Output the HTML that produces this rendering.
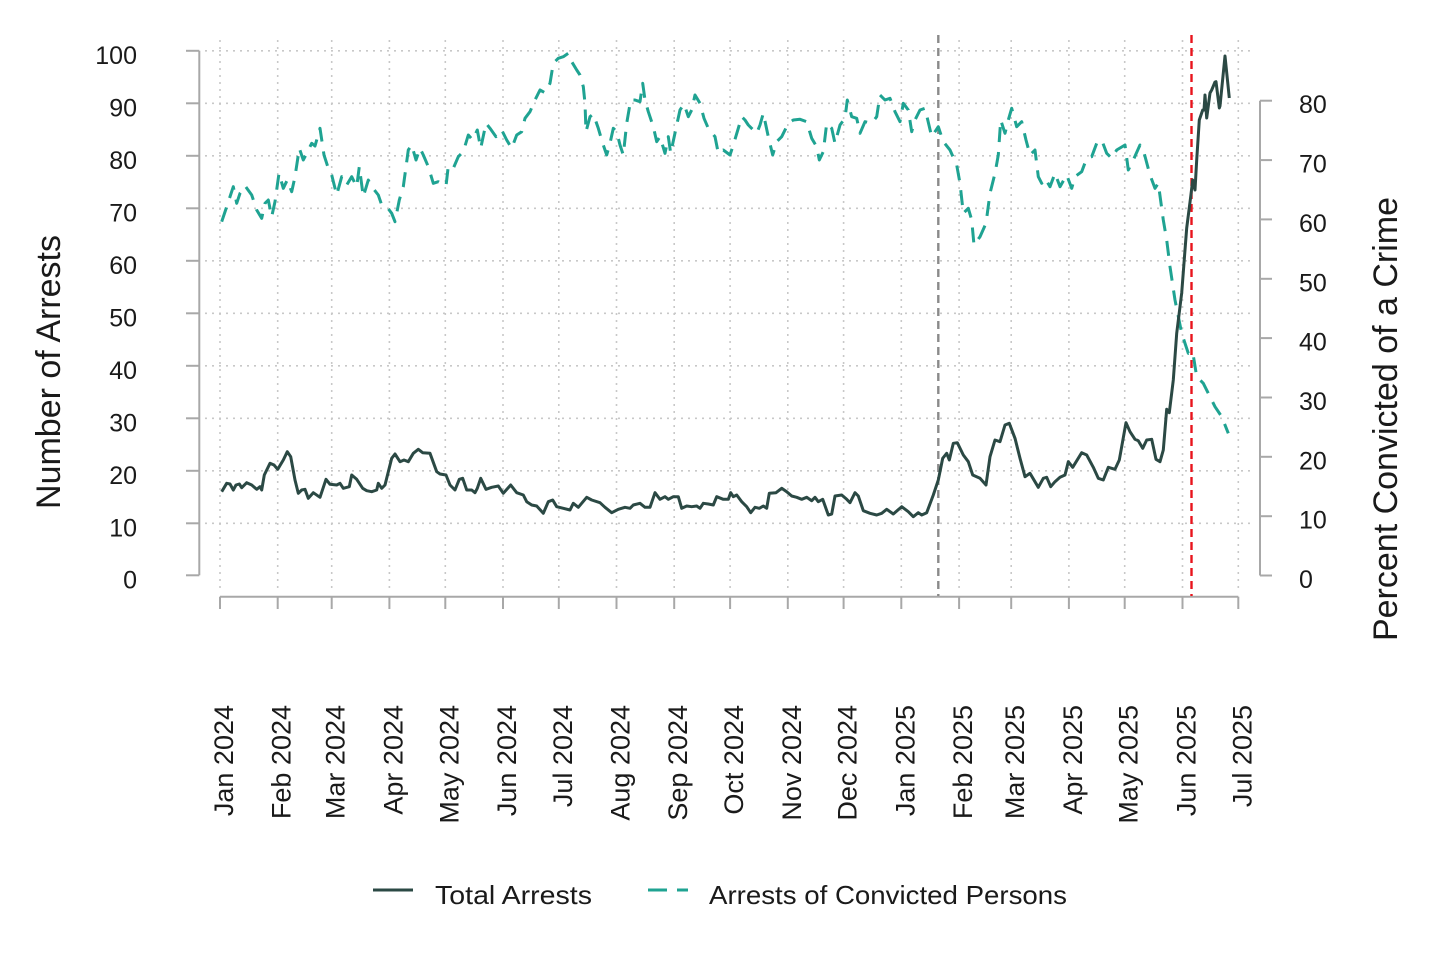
<!DOCTYPE html>
<html>
<head>
<meta charset="utf-8">
<style>
html,body{margin:0;padding:0;background:#fff;overflow:hidden;}
svg{display:block;}
text{font-family:"Liberation Sans",Arial,sans-serif;fill:#1a1a1a;}
</style>
</head>
<body>
<svg width="1439" height="961" viewBox="0 0 1439 961" xmlns="http://www.w3.org/2000/svg">
<rect width="1439" height="961" fill="#fff"/>

<!-- horizontal grid -->
<g stroke="#c8c8c8" stroke-width="1.6" stroke-dasharray="2 5" fill="none">
<line x1="205" y1="50.8" x2="1255" y2="50.8"/>
<line x1="205" y1="103.3" x2="1255" y2="103.3"/>
<line x1="205" y1="155.8" x2="1255" y2="155.8"/>
<line x1="205" y1="208.3" x2="1255" y2="208.3"/>
<line x1="205" y1="260.8" x2="1255" y2="260.8"/>
<line x1="205" y1="313.3" x2="1255" y2="313.3"/>
<line x1="205" y1="365.8" x2="1255" y2="365.8"/>
<line x1="205" y1="418.3" x2="1255" y2="418.3"/>
<line x1="205" y1="470.8" x2="1255" y2="470.8"/>
<line x1="205" y1="523.3" x2="1255" y2="523.3"/>
</g>
<!-- vertical grid -->
<g stroke="#c8c8c8" stroke-width="1.6" stroke-dasharray="2 5" fill="none">
<line x1="220" y1="40" x2="220" y2="590"/>
<line x1="277.7" y1="40" x2="277.7" y2="590"/>
<line x1="331.7" y1="40" x2="331.7" y2="590"/>
<line x1="389.4" y1="40" x2="389.4" y2="590"/>
<line x1="445.3" y1="40" x2="445.3" y2="590"/>
<line x1="503" y1="40" x2="503" y2="590"/>
<line x1="558.8" y1="40" x2="558.8" y2="590"/>
<line x1="616.5" y1="40" x2="616.5" y2="590"/>
<line x1="674.2" y1="40" x2="674.2" y2="590"/>
<line x1="730.1" y1="40" x2="730.1" y2="590"/>
<line x1="787.8" y1="40" x2="787.8" y2="590"/>
<line x1="843.6" y1="40" x2="843.6" y2="590"/>
<line x1="901.3" y1="40" x2="901.3" y2="590"/>
<line x1="959.1" y1="40" x2="959.1" y2="590"/>
<line x1="1011.2" y1="40" x2="1011.2" y2="590"/>
<line x1="1068.9" y1="40" x2="1068.9" y2="590"/>
<line x1="1124.7" y1="40" x2="1124.7" y2="590"/>
<line x1="1182.5" y1="40" x2="1182.5" y2="590"/>
<line x1="1238.3" y1="40" x2="1238.3" y2="590"/>
</g>

<!-- left axis -->
<g stroke="#a8a8a8" stroke-width="2" fill="none">
<line x1="199.3" y1="50.8" x2="199.3" y2="575.3"/>
<line x1="186" y1="50.8" x2="199.3" y2="50.8"/>
<line x1="186" y1="103.3" x2="199.3" y2="103.3"/>
<line x1="186" y1="155.8" x2="199.3" y2="155.8"/>
<line x1="186" y1="208.3" x2="199.3" y2="208.3"/>
<line x1="186" y1="260.8" x2="199.3" y2="260.8"/>
<line x1="186" y1="313.3" x2="199.3" y2="313.3"/>
<line x1="186" y1="365.8" x2="199.3" y2="365.8"/>
<line x1="186" y1="418.3" x2="199.3" y2="418.3"/>
<line x1="186" y1="470.8" x2="199.3" y2="470.8"/>
<line x1="186" y1="523.3" x2="199.3" y2="523.3"/>
<line x1="186" y1="575.3" x2="199.3" y2="575.3"/>
</g>
<g font-size="25" text-anchor="end">
<text x="137" y="64">100</text>
<text x="137" y="116.5">90</text>
<text x="137" y="169">80</text>
<text x="137" y="221.5">70</text>
<text x="137" y="274">60</text>
<text x="137" y="326.5">50</text>
<text x="137" y="379">40</text>
<text x="137" y="431.5">30</text>
<text x="137" y="484">20</text>
<text x="137" y="536.5">10</text>
<text x="137" y="588.5">0</text>
</g>

<!-- right axis -->
<g stroke="#a8a8a8" stroke-width="2" fill="none">
<line x1="1260" y1="100.7" x2="1260" y2="575.5"/>
<line x1="1260" y1="100.7" x2="1272" y2="100.7"/>
<line x1="1260" y1="160.1" x2="1272" y2="160.1"/>
<line x1="1260" y1="219.4" x2="1272" y2="219.4"/>
<line x1="1260" y1="278.8" x2="1272" y2="278.8"/>
<line x1="1260" y1="338.1" x2="1272" y2="338.1"/>
<line x1="1260" y1="397.5" x2="1272" y2="397.5"/>
<line x1="1260" y1="456.8" x2="1272" y2="456.8"/>
<line x1="1260" y1="516.2" x2="1272" y2="516.2"/>
<line x1="1260" y1="575.5" x2="1272" y2="575.5"/>
</g>
<g font-size="25" text-anchor="start">
<text x="1299" y="113.2">80</text>
<text x="1299" y="172.6">70</text>
<text x="1299" y="231.9">60</text>
<text x="1299" y="291.3">50</text>
<text x="1299" y="350.6">40</text>
<text x="1299" y="410">30</text>
<text x="1299" y="469.3">20</text>
<text x="1299" y="528.7">10</text>
<text x="1299" y="588">0</text>
</g>

<!-- bottom axis -->
<g stroke="#a8a8a8" stroke-width="2" fill="none">
<line x1="220" y1="596.7" x2="1238.3" y2="596.7"/>
<line x1="220" y1="596.7" x2="220" y2="609"/>
<line x1="277.7" y1="596.7" x2="277.7" y2="609"/>
<line x1="331.7" y1="596.7" x2="331.7" y2="609"/>
<line x1="389.4" y1="596.7" x2="389.4" y2="609"/>
<line x1="445.3" y1="596.7" x2="445.3" y2="609"/>
<line x1="503" y1="596.7" x2="503" y2="609"/>
<line x1="558.8" y1="596.7" x2="558.8" y2="609"/>
<line x1="616.5" y1="596.7" x2="616.5" y2="609"/>
<line x1="674.2" y1="596.7" x2="674.2" y2="609"/>
<line x1="730.1" y1="596.7" x2="730.1" y2="609"/>
<line x1="787.8" y1="596.7" x2="787.8" y2="609"/>
<line x1="843.6" y1="596.7" x2="843.6" y2="609"/>
<line x1="901.3" y1="596.7" x2="901.3" y2="609"/>
<line x1="959.1" y1="596.7" x2="959.1" y2="609"/>
<line x1="1011.2" y1="596.7" x2="1011.2" y2="609"/>
<line x1="1068.9" y1="596.7" x2="1068.9" y2="609"/>
<line x1="1124.7" y1="596.7" x2="1124.7" y2="609"/>
<line x1="1182.5" y1="596.7" x2="1182.5" y2="609"/>
<line x1="1238.3" y1="596.7" x2="1238.3" y2="609"/>
</g>
<g font-size="27" text-anchor="end">
<text transform="translate(233,705) rotate(-90)">Jan 2024</text>
<text transform="translate(290.7,705) rotate(-90)">Feb 2024</text>
<text transform="translate(344.7,705) rotate(-90)">Mar 2024</text>
<text transform="translate(402.4,705) rotate(-90)">Apr 2024</text>
<text transform="translate(458.3,705) rotate(-90)">May 2024</text>
<text transform="translate(516,705) rotate(-90)">Jun 2024</text>
<text transform="translate(571.8,705) rotate(-90)">Jul 2024</text>
<text transform="translate(629.5,705) rotate(-90)">Aug 2024</text>
<text transform="translate(687.2,705) rotate(-90)">Sep 2024</text>
<text transform="translate(743.1,705) rotate(-90)">Oct 2024</text>
<text transform="translate(800.8,705) rotate(-90)">Nov 2024</text>
<text transform="translate(856.6,705) rotate(-90)">Dec 2024</text>
<text transform="translate(914.3,705) rotate(-90)">Jan 2025</text>
<text transform="translate(972.1,705) rotate(-90)">Feb 2025</text>
<text transform="translate(1024.2,705) rotate(-90)">Mar 2025</text>
<text transform="translate(1081.9,705) rotate(-90)">Apr 2025</text>
<text transform="translate(1137.7,705) rotate(-90)">May 2025</text>
<text transform="translate(1195.5,705) rotate(-90)">Jun 2025</text>
<text transform="translate(1251.3,705) rotate(-90)">Jul 2025</text>
</g>

<!-- axis titles -->
<text font-size="34" text-anchor="middle" transform="translate(60,372) rotate(-90)" fill="#111">Number of Arrests</text>
<text font-size="34" text-anchor="middle" transform="translate(1397,419) rotate(-90)" fill="#111">Percent Convicted of a Crime</text>

<!-- reference lines -->
<line x1="938.3" y1="35" x2="938.3" y2="596" stroke="#8a8a8a" stroke-width="2.4" stroke-dasharray="8 5"/>
<line x1="1191.5" y1="35" x2="1191.5" y2="596" stroke="#e8141c" stroke-width="2.4" stroke-dasharray="8 5"/>

<!-- teal series -->
<polyline fill="none" stroke="#1fa392" stroke-width="3" stroke-dasharray="15 10" stroke-linejoin="round" points="
221.7,221.7 226.7,206.7 233.3,186.7 236.7,203.3 240,193.3 245,185.7 251.7,195 256.7,210 261.7,218.3 265,203.3 268.3,200 271.7,216.7 275,201.7 279,173.3 283.3,188.3 287.3,180 291.7,191.7 295,176.7 299.3,148.3 303.3,160 306.7,153.3 311.7,143.3 315,146 320,128.3 324,155 328.3,168.3 331.7,175 336.7,195 341.7,176.7 346.7,185 351.7,176.7 356.7,186.7 359.3,166.7 363.3,196.7 368.3,180 371.7,186.7 378.3,195 381.7,205 386.7,206.7 391.7,213.3 395,221.7 399.3,200 403.3,186.7 408.3,150 411.7,145 416,160 420,148.3 423.3,155 428.3,166.7 433.3,183.3 438.3,181.7 446,186 448.3,166 453.3,168.3 458.3,156.7 463.3,151.7 468.3,135 472.7,140 477.3,130 480.7,148.3 486,123.3 490,128.3 496,136.7 501.7,130 506.7,140 511.7,148.3 516.7,135 521.7,131.7 525,118.3 530,111.7 535,100 540,90 545,92.7 550,83.3 553.3,63.3 558.3,58.3 563.3,56.7 568.3,53.3 571.7,61.7 576.7,70 580,75
583.3,86.7 585,103.3 586,131.7 590,116.7 593.3,114 598.3,128.3 602.7,143.3 606.7,155 610,143.3 613.3,128.3 616.7,131.7 620,145 623.3,155 626.7,123.3 630.7,100 635,100 640,101.7 642.7,83.3 645,100 648.3,111.7 653.3,126.7 656.7,141.7 660,136.7 665,153.3 668.3,136.7 670.7,153.3 676.7,125 680,110 684,104 688.3,116.7 691.7,110 695,95 700,103.3 704,118.3 708.3,128.3 715,136.7 718.3,153.3 723.3,150 730,155 733.3,145 738.3,128.3 741.7,116.7 745,120 748.3,125 753.3,130 756.7,133.3 760,125 763.3,113.3 768.3,136.7 772.7,155 776.7,141.7 781.7,136.7 788.3,123.3 793.3,120 800,119.3 806.7,121.7 811.7,138.3 816.7,146.7 819.3,160 823.3,151.7 826.7,123.3 831.7,128.3 835,143.3 840,125 845,118.3 847.3,100 851.7,116.7 856.7,118.3 860,133.3 865,121.7 871.7,123.3 876.7,116.7 880,95 885,100 890,98.3 895,111.7 900,121.7 903.3,103.3 908.3,110 911.7,131.7 915,120 920,110 925,108.3
931.7,136.7 938.3,126.7 943.3,141.7 950,150 956.7,165 960,183.3 963.3,213.3 968.3,208.3 971.7,220 974,245 980,236.7 986,223.3 990,193.3 995,173.3 998.3,155 1000.7,120 1005,133.3 1008.3,120 1011.7,108.3 1016.7,126.7 1021.7,121.7 1026,140 1030,155 1035,150 1038.3,176.7 1041.7,183.3 1045,178.3 1050,186.7 1055,173.3 1060,186.7 1066.7,175 1071.7,188.3 1075,176.7 1081.7,171.7 1086.7,158.3 1091.7,156.7 1096.7,143.3 1101.7,140 1106.7,153.3 1111.7,158.3 1116.7,150 1125,145 1128.3,170 1133.3,160 1140,145 1143.3,150 1150,175 1155,188.3 1158.3,183.3 1163.3,220 1166.7,240 1170,266.7 1175,300 1181.7,333.3 1188.3,353.3 1192.7,351.7 1196.7,376.7 1203.3,383.3 1210,396.7 1215,406.7 1221.7,416.7 1228.3,433.3"/>

<!-- dark series -->
<polyline fill="none" stroke="#2b4944" stroke-width="3" stroke-linejoin="round" points="
221.7,491.7 226.7,483.3 230,484 233.3,490 236,485 239.3,484 241.7,487.7 246.7,482.7 251.7,485 256.7,489.3 260,486.7 261.7,490 264.3,475 270,463.3 274,465 277.7,469.3 283.3,460 287.3,451.7 290.7,456.7 295,480 298.3,493.3 301.7,490 305,489.3 308.3,498.3 313.3,492.7 320,497.3 326,479.3 330,484.3 336.7,485 340,483.3 343.3,488.3 349.3,486.7 351.7,475 356.7,479.3 362.7,488.3 366.7,490.7 371.7,491.7 376.7,490 378.3,483.3 381.7,488.3 385,485 391.7,458.3 395,454 400,461.7 404,460 408.3,461.7 413.3,453.3 418.3,449.3 422.7,452.7 430,453.3 436.7,471.7 440,474 446,475 450,485 455,490 459.3,479.3 462.7,478.3 466.7,490 471.7,490 475,492.7 477.3,488.3 480.7,478.3 486,489.3 491.7,487.3 498.3,486 503.3,493.3 510.7,485 516.7,492.7 523.3,495 526.7,501.7 531.7,505 536.7,506 543.3,513.3 548.3,501.7 552.7,500 556.7,506.7 563.3,508.3 570,510 573.3,503.3 578.3,507.3 586.7,497.3 591.7,500 600,502.7 605,507.3 611.7,512.7 618.3,509.3 625,507.3 630,508.3 633.3,505 640,503.3 645,507.3 650,507.3 655,492.7 660,499.3 665,496.7 668.3,499.3 673.3,496.7 678.3,496.7 681.7,508.3 686.7,506 691.7,506.7 696.7,506
700,508.3 703.3,503.3 708.3,504 713.3,505 716.7,496.7 723.3,499.3 728.3,499.3 730.7,492.7 733.3,496.7 736.7,495 741.7,501.7 746.7,506.7 750.7,512.7 755,507.3 759.3,508.3 763.3,506 766.7,508.3 769.3,493.3 776,492.7 781.7,488.3 786.7,491.7 791.7,496 796.7,497.3 801.7,499.3 806.7,497.3 811.7,500.7 815,497.3 818.3,501.7 822.7,499.3 828.3,515 831.7,514 835,496 841.7,495 846.7,499.3 850,502.7 855,492.7 858.3,496 863.3,510.7 870,513.3 876.7,515 881.7,513.3 886.7,509.3 893.3,514 901.7,506.7 908.3,511.7 913.3,516.7 918.3,512.7 921.7,515 926.7,512.7 933.3,495 938.3,480 942.7,458.3 946.7,453.3 949.3,460 953.3,443.3 957.3,442.7 963.3,455 968.3,461.7 972.7,475 980,478.3 986,485 990,456.7 995,440 1000,441.7 1005,425 1009.3,423.3 1015,438.3 1020,458.3 1025,476.7 1030,473.3 1038.3,487.3 1043.3,478.3 1046.7,477.3 1050.7,486.7 1055,481.7 1060,477.3 1065,475 1068.3,461.7 1072.7,467.3 1081.7,452.7 1086.7,455 1093.3,467.3 1098.3,478.3 1103.3,480 1108.3,467.3 1115,469.3 1119.3,460 1126,422.7 1130,431.7 1135,439.3 1138.3,440.7 1142.7,448.3 1146.7,440 1151.7,439.3 1156,459.3 1160,461.7 1163.3,450 1166.7,409.3 1169.3,412.7 1173.3,380 1176.7,333.3 1181.7,293 1185,250 1186.7,228 1190.7,196.7 1192.7,180 1195,190 1196.7,160 1199.3,120 1202.7,110 1204,110 1205,95 1206.7,118 1210,93 1211.7,90 1215,82 1216,81.7 1219.3,108 1220,106 1225,56 1229.3,98"/>

<!-- legend -->
<line x1="373" y1="890" x2="413" y2="890" stroke="#2b4944" stroke-width="3"/>
<text x="435" y="904" font-size="26" textLength="157" lengthAdjust="spacingAndGlyphs" fill="#222">Total Arrests</text>
<line x1="648" y1="890" x2="667" y2="890" stroke="#1fa392" stroke-width="3"/>
<line x1="677" y1="890" x2="688" y2="890" stroke="#1fa392" stroke-width="3"/>
<text x="709" y="904" font-size="26" textLength="358" lengthAdjust="spacingAndGlyphs" fill="#222">Arrests of Convicted Persons</text>
</svg>
</body>
</html>
